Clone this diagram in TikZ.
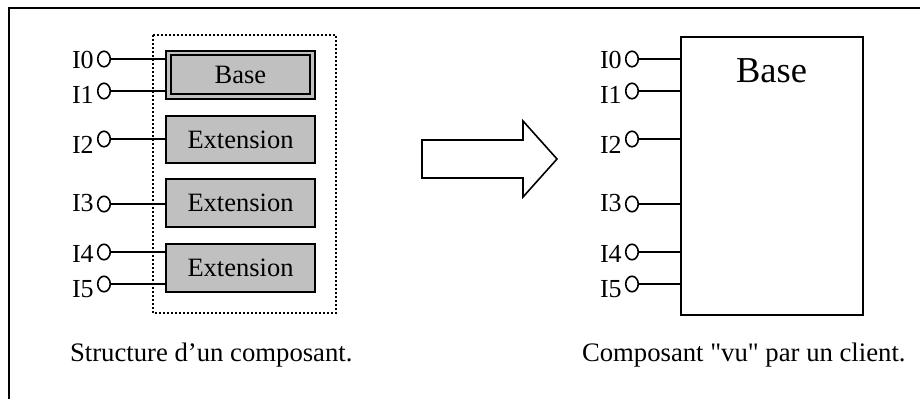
\documentclass[tikz,border=0pt]{standalone}
\usepackage{fontspec}
\setmainfont{Liberation Serif}
\newfontfamily\rawserif{Liberation Serif}
\usetikzlibrary{shapes.geometric,backgrounds}
\definecolor{boxgrey}{RGB}{192,192,192}
\tikzset{
  txt/.style={inner sep=0pt,outer sep=0pt,anchor=base west,font=\fontsize{26}{26}\selectfont},
  port/.style={draw=black,line width=1.6pt,ellipse,fill=white,minimum width=12.5pt,minimum height=15.5pt,inner sep=0pt,outer sep=0pt},
  link/.style={draw=black,line width=1.6pt},
  bloc/.style={draw=black,line width=2pt,fill=boxgrey,rectangle,inner sep=0pt,outer sep=0pt,font=\fontsize{26.5}{26.5}\selectfont,minimum width=149pt},
  frameline/.style={draw=black,line width=2pt},
  dotbox/.style={draw=black,line width=1.5pt,dash pattern=on 2pt off 2pt},
  bigarrow/.style={draw=black,line width=1.6pt,line join=miter,fill=white},
  plainbox/.style={draw=black,line width=2pt,fill=white,rectangle,inner sep=0pt,outer sep=0pt,minimum width=182pt,minimum height=278pt}
}
\begin{document}
\begin{tikzpicture}[x=1pt,y=-1pt]
\useasboundingbox (0,0) rectangle (920,399);
% outer frame
\coordinate (ftr) at (920,8);
\coordinate (ftl) at (9,8);
\coordinate (fbl) at (9,399);
\draw[frameline] (ftr) -- (ftl) -- (fbl);
% left component
\draw[dotbox] (153,35) rectangle (336,313);
\node[bloc,minimum height=48pt] (base) at (240.5,75) {Base};
\draw[draw=black,line width=2pt] (171,55) rectangle (309.5,94);
\node[bloc,minimum height=47pt] (e1) at (240.5,139.5) {\raisebox{-2pt}{Extension}};
\node[bloc,minimum height=48pt] (e2) at (240.5,203) {\raisebox{-2.5pt}{Extension}};
\node[bloc,minimum height=48pt] (e3) at (240.5,267.5) {\raisebox{-2pt}{Extension}};
\foreach \n/\y/\b/\lab in {a/59/68/I0,b/91/103/I1,c/139/153/I2,d/204/211/I3,e/252/262/I4,f/284/297/I5}{
  \node[port] (l\n) at (104,\y) {};
  \coordinate (lt\n) at (166,\y);
  \draw[link] (l\n) -- (lt\n);
  \node[txt] (ll\n) at (72,\b) {\lab};
}
% arrow
\draw[bigarrow] (422,140) -- (523,140) -- (523,121) -- (557,159) -- (523,197) -- (523,178) -- (422,178) -- cycle;
% right component
\node[plainbox] (comp) at (772,176) {};
\node[txt,font=\fontsize{36.5}{36.5}\selectfont] (bbase) at (736,82) {Base};
\foreach \n/\y/\b/\lab in {a/59/68/I0,b/91/103/I1,c/139/153/I2,d/204/211/I3,e/252/262/I4,f/284/297/I5}{
  \node[port] (r\n) at (632,\y) {};
  \coordinate (rt\n) at (681,\y);
  \draw[link] (r\n) -- (rt\n);
  \node[txt] (rl\n) at (600,\b) {\lab};
}
% captions
\node[txt,font=\fontsize{26.7}{26.7}\selectfont] (c1) at (70,361) {Structure d’un composant.};
\node[txt,font=\fontsize{26.7}{26.7}\rawserif] (c2) at (582,361) {Composant "vu" par un client.};
\end{tikzpicture}
\end{document}
